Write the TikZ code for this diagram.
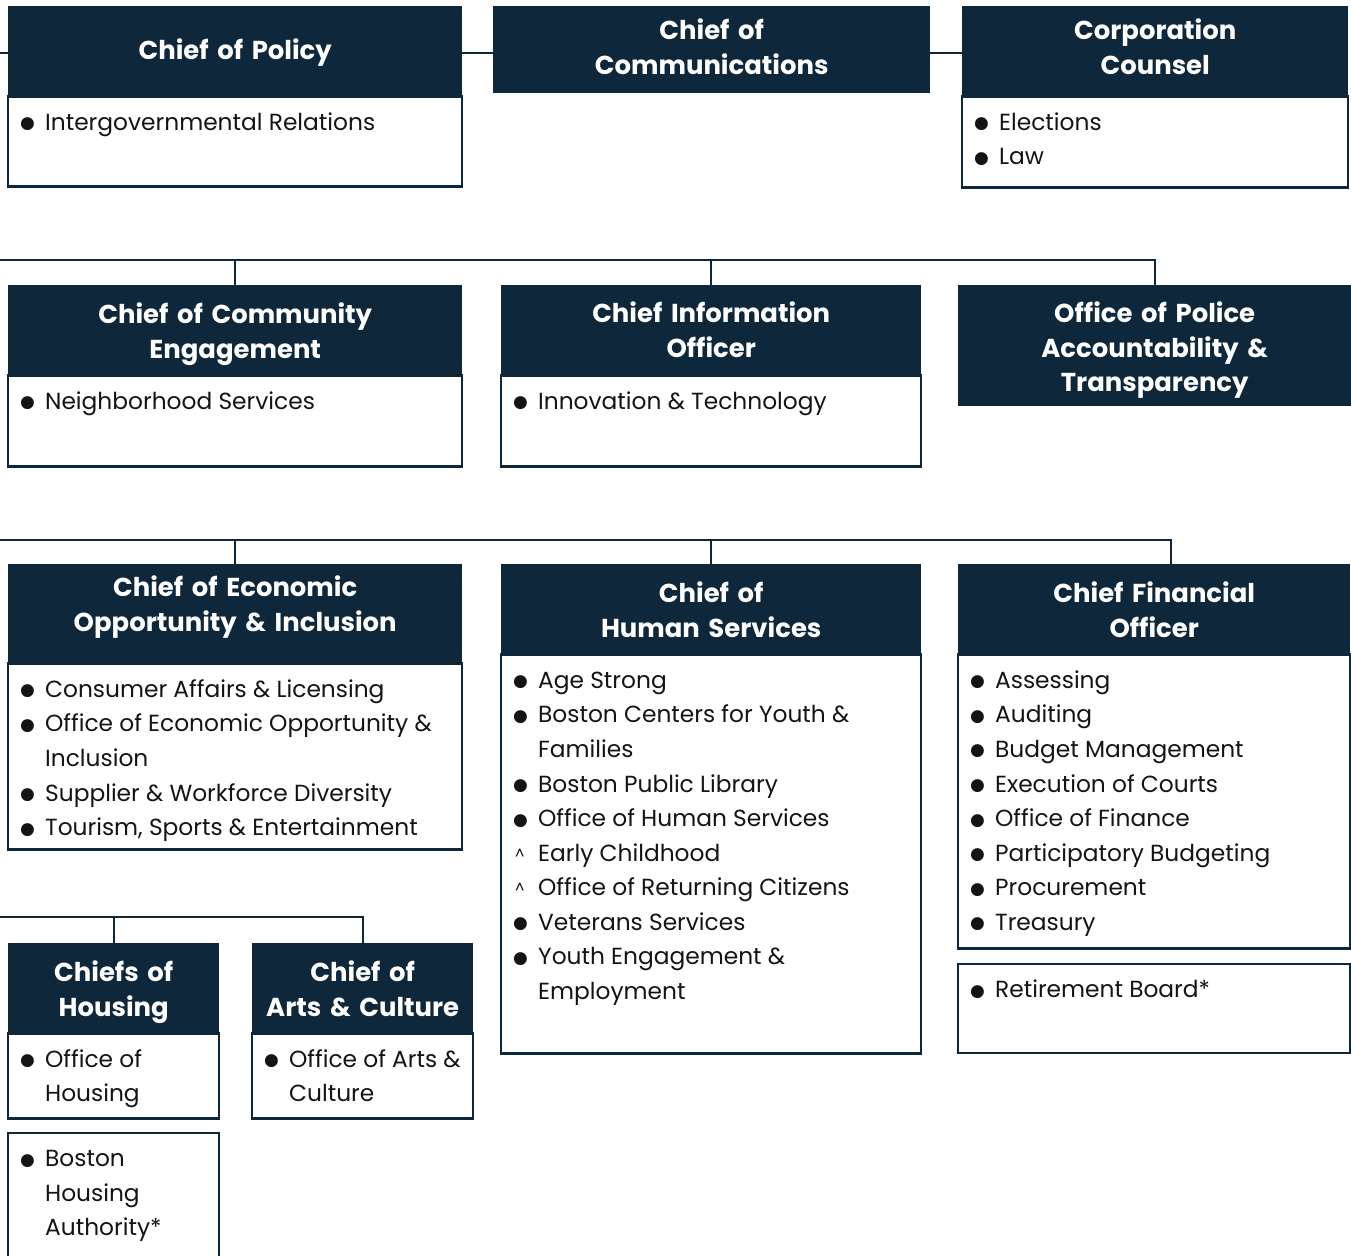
\documentclass[tikz,border=0pt]{standalone}
\usepackage{fontspec}
\setmainfont{Poppins}
\newfontfamily\symfont{DejaVu Sans}
\usetikzlibrary{positioning}

\definecolor{navy}{HTML}{0E273B}
\definecolor{ink}{HTML}{141414}
\newcommand\bul{\makebox[25bp][l]{\raisebox{1.5bp}{\symfont\fontsize{17}{17}\selectfont ●}}\strut}
\newcommand\caretmark{\makebox[25bp][l]{\hspace{2bp}\raisebox{2bp}{\fontsize{15}{15}\selectfont\textasciicircum}}\strut}
\newcommand\cont{\hspace*{25bp}}

\tikzset{
  head/.style={fill=navy, text=white, font=\bfseries\fontsize{26}{35}\selectfont, inner sep=0pt, anchor=north west,
    execute at begin node=\centering, text width=#1, minimum width=#1, text height=27bp, text depth=40bp},
  body/.style={draw=navy, line width=2.5bp, fill=white, inner sep=0pt, anchor=north},
  items/.style={anchor=north west, align=left, inner xsep=13bp, inner ysep=10.5bp, text=ink, font=\fontsize{23.4}{34.7}\selectfont},
  link/.style={draw=navy, line width=2bp},
}

\begin{document}
\begin{tikzpicture}[x=1bp,y=-1bp]
\useasboundingbox (0,0) rectangle (1351,1255);
\clip (0,0) rectangle (1351,1255);

% first row
\node[head=454bp, minimum height=89bp, text height=47bp, text depth=30bp] (policy) at (8,6) {Chief of Policy};
\node[body, minimum width=454bp, minimum height=90bp] (policy-b) at (policy.south) {};
\node[items] (policy-l) at (policy-b.north west) {\bul Intergovernmental Relations};
\node[head=437bp, minimum height=87bp, text height=19bp] (comms) at (493,6) {Chief of\\Communications};
\node[head=386bp, minimum height=89bp, text height=17bp] (counsel) at (962,6) {Corporation\\Counsel};
\node[body, minimum width=386bp, minimum height=91bp] (counsel-b) at (counsel.south) {};
\node[items] (counsel-l) at (counsel-b.north west) {\bul Elections\\\bul Law};
\coordinate (bus1) at (0,53);
\draw[link] (bus1) -- (bus1 -| policy.west);
\draw[link] (bus1 -| policy.east) -- (bus1 -| comms.west);
\draw[link] (bus1 -| comms.east) -- (bus1 -| counsel.west);

% second row
\node[head=454bp, minimum height=89bp] (engage) at (8,285) {Chief of Community\\Engagement};
\node[body, minimum width=454bp, minimum height=91bp] (engage-b) at (engage.south) {};
\node[items] (engage-l) at (engage-b.north west) {\bul Neighborhood Services};
\node[head=420bp, minimum height=89bp, text height=25bp] (info) at (501,285) {Chief Information\\Officer};
\node[body, minimum width=420bp, minimum height=91bp] (info-b) at (info.south) {};
\node[items] (info-l) at (info-b.north west) {\bul Innovation \& Technology};
\node[head=393bp, minimum height=121bp, text height=13bp, text depth=60bp] (police) at (958,285) {Office of Police\\Accountability \&\\Transparency};
\coordinate (bus2) at (0,260);
\draw[link] (bus2) -| (police.north);
\draw[link] (engage.north) -- (engage.north |- bus2);
\draw[link] (info.north) -- (info.north |- bus2);

% third row
\node[head=454bp, minimum height=98bp, text height=6bp] (econ) at (8,564) {Chief of Economic\\Opportunity \& Inclusion};
\node[body, minimum width=454bp, minimum height=186bp] (econ-b) at (econ.south) {};
\node[items] (econ-l) at (econ-b.north west) {\bul Consumer Affairs \& Licensing\\\bul Office of Economic Opportunity \&\\\cont Inclusion\\\bul Supplier \& Workforce Diversity\\\bul Tourism, Sports \& Entertainment};
\node[head=420bp, minimum height=89bp] (human) at (501,564) {Chief of\\Human Services};
\node[body, minimum width=420bp, minimum height=399bp] (human-b) at (human.south) {};
\node[items] (human-l) at (human-b.north west) {\bul Age Strong\\\bul Boston Centers for Youth \&\\\cont Families\\\bul Boston Public Library\\\bul Office of Human Services\\\caretmark Early Childhood\\\caretmark Office of Returning Citizens\\\bul Veterans Services\\\bul Youth Engagement \&\\\cont Employment};
\node[head=392bp, minimum height=89bp] (cfo) at (958,564) {Chief Financial\\Officer};
\node[body, minimum width=392bp, minimum height=294bp] (cfo-b) at (cfo.south) {};
\node[items] (cfo-l) at (cfo-b.north west) {\bul Assessing\\\bul Auditing\\\bul Budget Management\\\bul Execution of Courts\\\bul Office of Finance\\\bul Participatory Budgeting\\\bul Procurement\\\bul Treasury};
\node[body, minimum width=392bp, minimum height=89bp, below=13bp of cfo-b] (retire) {};
\node[items] (retire-l) at (retire.north west) {\bul Retirement Board*};
\coordinate (bus3) at (0,540);
\coordinate (cfo-top) at (1171,564);
\draw[link] (bus3) -| (cfo-top);
\draw[link] (econ.north) -- (econ.north |- bus3);
\draw[link] (human.north) -- (human.north |- bus3);

% fourth row
\node[head=211bp, minimum height=89bp] (housing) at (8,943) {Chiefs of\\Housing};
\node[body, minimum width=211bp, minimum height=85bp] (housing-b) at (housing.south) {};
\node[items] (housing-l) at (housing-b.north west) {\bul Office of\\\cont Housing};
\node[body, minimum width=211bp, minimum height=140bp, below=12bp of housing-b] (bha) {};
\node[items] (bha-l) at (bha.north west) {\bul Boston\\\cont Housing\\\cont Authority*};
\node[head=221bp, minimum height=89bp] (arts) at (252,943) {Chief of\\Arts \& Culture};
\node[body, minimum width=221bp, minimum height=85bp] (arts-b) at (arts.south) {};
\node[items] (arts-l) at (arts-b.north west) {\bul Office of Arts \&\\\cont Culture};
\coordinate (bus4) at (0,917);
\draw[link] (bus4) -| (arts.north);
\draw[link] (housing.north) -- (housing.north |- bus4);
\end{tikzpicture}
\end{document}
